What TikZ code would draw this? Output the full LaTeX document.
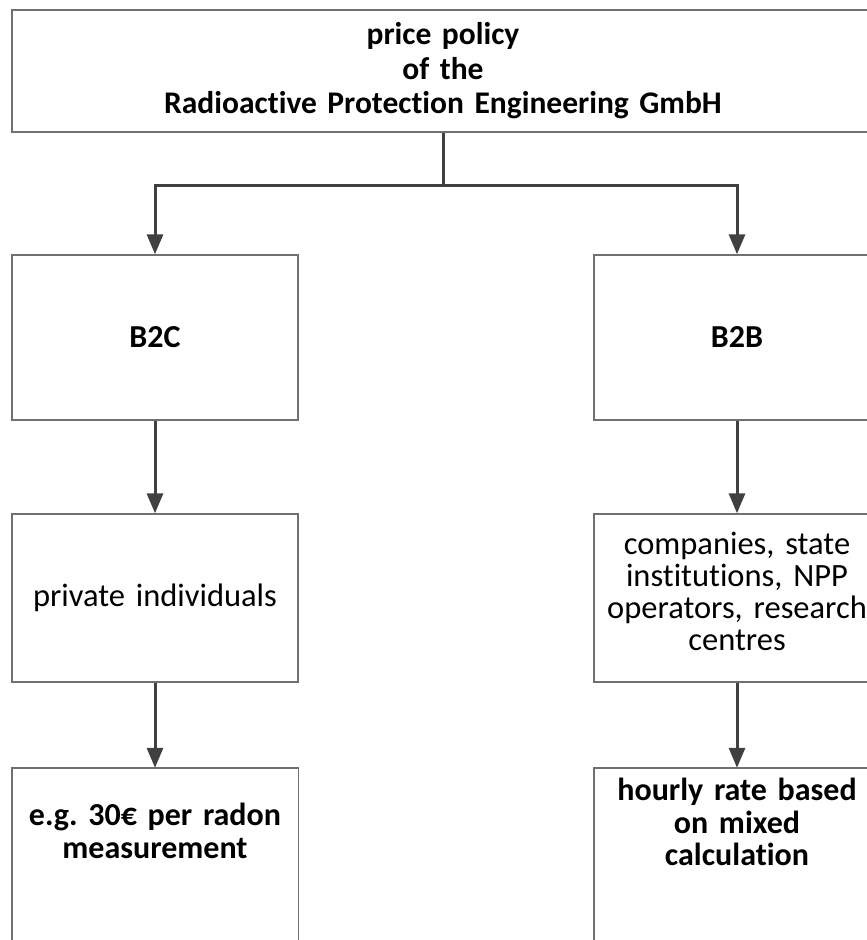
\documentclass[tikz,border=0pt]{standalone}
\usepackage{fontspec}
\setmainfont{Carlito}[Ligatures=NoCommon, WordSpace=0.8]
\usetikzlibrary{arrows.meta}
\definecolor{boxgray}{HTML}{707070}
\definecolor{arrgray}{HTML}{404040}
\tikzset{
  boxline/.style={draw=boxgray, line width=1.4pt},
  box/.style={boxline, rectangle, minimum width=286pt, minimum height=165pt, align=center, inner sep=0pt, text width=284pt, font=\fontsize{32.5}{32}\selectfont},
  boxtxt/.style={align=center, text width=284pt, inner sep=0pt, font=\fontsize{32.5}{32}\selectfont},
  boldtxt/.style={font=\bfseries\fontsize{32}{32.5}\selectfont},
  arr/.style={draw=arrgray, line width=3pt, -{Triangle[width=16pt,length=20pt]}},
}
\frenchspacing
\begin{document}
\begin{tikzpicture}[x=1pt,y=-1pt]
\useasboundingbox (0,0) rectangle (867,940);
\clip (0,0) rectangle (867,940);
\fill[white] (0,0) rectangle (867,940);
% top
\node[box, minimum width=862pt, minimum height=122pt, text width=840pt, font=\bfseries\fontsize{31.5}{34.5}\selectfont] (top) at (443,71)
  {price policy\\of the\\Radioactive Protection Engineering GmbH};
% row 1
\node[box, boldtxt] (b2c) at (155,337.5) {B2C};
\node[box, boldtxt] (b2b) at (737,337.5) {B2B};
% row 2
\node[box, minimum height=168pt] (priv) at (155,598) {private individuals};
\node[box, minimum height=168pt] (comp) at (737,598) {companies, state\\institutions, NPP\\operators, research\\centres\rule[-14pt]{0pt}{0pt}};
% row 3
\node[boxtxt, boldtxt, minimum width=286pt, minimum height=126pt] (price) at (155,831) {e.g. 30€ per radon\\measurement};
\node[boxtxt, boldtxt, minimum width=286pt, minimum height=108pt] (rate) at (737,822) {hourly rate based\\on mixed\\calculation};
\draw[boxline] ([yshift=-80pt]price.south west) -- (price.north west) -- (price.north east) -- ([yshift=-80pt]price.south east);
\draw[boxline] ([yshift=-100pt]rate.south west) -- (rate.north west) -- (rate.north east) -- ([yshift=-100pt]rate.south east);
% connectors
\draw[arr] (top.south) -- ++(0,53) -| (b2c.north);
\draw[arr] (top.south) -- ++(0,53) -| (b2b.north);
\draw[arr] (b2c) -- (priv);
\draw[arr] (b2b) -- (comp);
\draw[arr] (priv) -- (price);
\draw[arr] (comp) -- (rate);
\end{tikzpicture}
\end{document}
